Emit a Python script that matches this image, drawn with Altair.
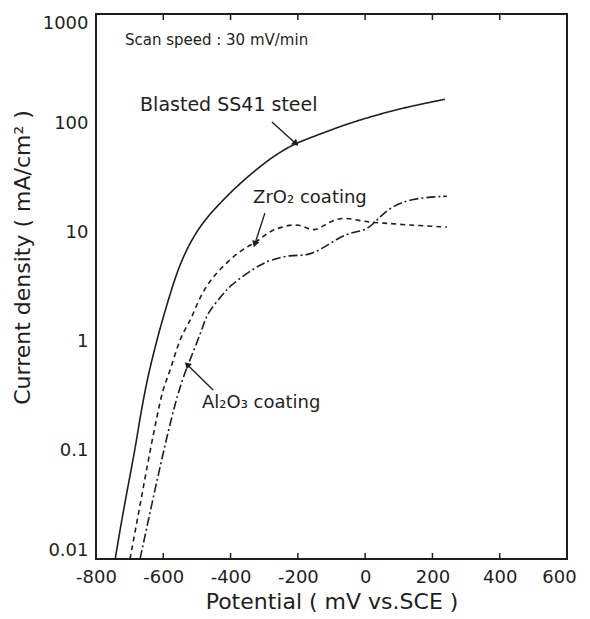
import altair as alt
import pandas as pd

# ---------------- data ----------------
potential_ticks = [-800, -600, -400, -200, 0, 200, 400, 600]
current_ticks = [0.01, 0.1, 1, 10, 100, 1000]
inner_ticks = [-600, -400, -200, 0, 200, 400]

series_names = ["Blasted SS41 steel", "ZrO2 coating", "Al2O3 coating"]

steel_x = [-743, -717, -684, -669, -648, -630, -610, -580, -550, -510, -470, -420,
           -372, -300, -253, -208, -130, -54, 20, 95, 170, 237]
steel_y = [0.01, 0.03, 0.1, 0.2, 0.44, 0.75, 1.3, 2.7, 5.2, 9.2, 13.7, 20,
           28, 43, 54, 65, 80, 98, 115, 133, 150, 165]

zr_x = [-699, -670, -639, -619, -601, -580, -550, -520, -500, -470, -431, -372,
        -321, -292, -253, -194, -155, -113, -66, -6, 53, 124, 243]
zr_y = [0.01, 0.03, 0.1, 0.2, 0.37, 0.52, 1.1, 1.5, 2.2, 3.3, 4.6, 6.8,
        8.1, 9.8, 11.1, 12.1, 9.8, 12.1, 13.9, 12.4, 12.1, 11.6, 11.1]

al_x = [-669, -619, -571, -544, -520, -482, -470, -422, -402, -351, -312, -283,
        -223, -173, -125, -75, -36, 5, 35, 74, 142, 243]
al_y = [0.01, 0.053, 0.23, 0.44, 0.68, 1.34, 1.8, 2.7, 3.2, 4.2, 5.0, 5.5,
        6.2, 6.0, 7.1, 9.0, 10.0, 10.4, 12.9, 16.9, 20.5, 21.3]

# annotation texts and their anchor (data coordinates)
label_texts = ["Scan speed : 30 mV/min", "Blasted SS41 steel", "ZrO₂ coating", "Al₂O₃ coating"]
label_x = [-714, -669, -333, -485]
label_y = [520, 128, 18.5, 0.244]

# arrows: start -> head (data coordinates)
arrow_x = [-277, -298, -452]
arrow_y = [102, 14.9, 0.355]
arrow_x2 = [-208, -327, -527]
arrow_y2 = [65.6, 7.9, 0.6]

# ---------------- build tables ----------------
def table(xs, ys, name):
    return pd.DataFrame({"series": name, "potential": xs, "current": ys})

W, H = 471, 545
FONT = "DejaVu Sans"
INK = "#1e1e1e"

xscale = alt.Scale(domain=[-800, 600], nice=False, zero=False)
yscale = alt.Scale(type="log", domain=[0.01, 1000], nice=False)

x_axis = alt.Axis(values=potential_ticks, labelExpr="datum.value + ''",
                  title="Potential ( mV vs.SCE )", grid=False, domain=False,
                  ticks=False, labelFlush=False, labelFont=FONT, labelFontSize=18,
                  labelOffset={"condition": {"test": "datum.value == 600", "value": -8},
                               "value": 0},
                  labelColor=INK, labelPadding=9, titleFont=FONT, titleFontSize=22,
                  titleFontWeight="normal", titleColor=INK, titlePadding=5)
y_axis = alt.Axis(values=current_ticks, labelExpr="datum.value + ''",
                  title="Current density ( mA/cm² )", grid=False, domain=False,
                  ticks=False, labelFont=FONT, labelFontSize=18, labelColor=INK,
                  labelPadding=8, labelFlush=True, titleFont=FONT, titleFontSize=22,
                  titleFontWeight="normal", titleColor=INK, titleX=-62, titleY=243)


def X(field="potential:Q"):
    return alt.X(field, scale=xscale, axis=x_axis)


def Y(field="current:Q"):
    return alt.Y(field, scale=yscale, axis=y_axis)


dashes = [[1, 0], [5, 4], [9, 3, 2, 3]]
line_layers = []
for name, xs, ys, dash in zip(series_names, [steel_x, zr_x, al_x],
                              [steel_y, zr_y, al_y], dashes):
    line_layers.append(
        alt.Chart(table(xs, ys, name)).mark_line(
            strokeWidth=1.6, color=INK, interpolate="basis", strokeDash=dash
        ).encode(x=X(), y=Y())
    )

tick_df = pd.DataFrame({"potential": inner_ticks})
top_ticks = alt.Chart(tick_df).mark_rule(color=INK, strokeWidth=1.5).encode(
    x=X(), y=alt.value(0), y2=alt.value(6))
bottom_ticks = alt.Chart(tick_df).mark_rule(color=INK, strokeWidth=1.5).encode(
    x=X(), y=alt.value(H), y2=alt.value(H - 6))

label_sizes = [15, 19, 18, 18]
texts = []
for t, lx, ly, fs in zip(label_texts, label_x, label_y, label_sizes):
    tdf = pd.DataFrame({"text": [t], "potential": [lx], "current": [ly]})
    texts.append(alt.Chart(tdf).mark_text(align="left", baseline="alphabetic",
                                          font=FONT, fontSize=fs, color=INK).encode(
        x=X(), y=Y(), text="text:N"))

arrow_df = pd.DataFrame({"potential": arrow_x, "current": arrow_y,
                         "potential2": arrow_x2, "current2": arrow_y2})
shafts = alt.Chart(arrow_df).mark_rule(color=INK, strokeWidth=1.4).encode(
    x=X(), y=Y(), x2="potential2:Q", y2="current2:Q")

head_angles = [132, 198, 315]
heads = []
for i, ang in enumerate(head_angles):
    hdf = pd.DataFrame({"potential": [arrow_x2[i]], "current": [arrow_y2[i]]})
    heads.append(alt.Chart(hdf).mark_point(shape="triangle", filled=True, size=55,
                                           color=INK, opacity=1, angle=ang).encode(
        x=X(), y=Y()))

chart = alt.layer(*line_layers, top_ticks, bottom_ticks, shafts, *heads, *texts).properties(
    width=W, height=H,
    autosize=alt.AutoSizeParams(type="none"),
    padding={"left": 88, "top": 6, "right": 15, "bottom": 56},
    background="white",
).configure_view(stroke=INK, strokeWidth=2)

chart.save("out.html", embed_options={"renderer": "svg", "actions": False})
